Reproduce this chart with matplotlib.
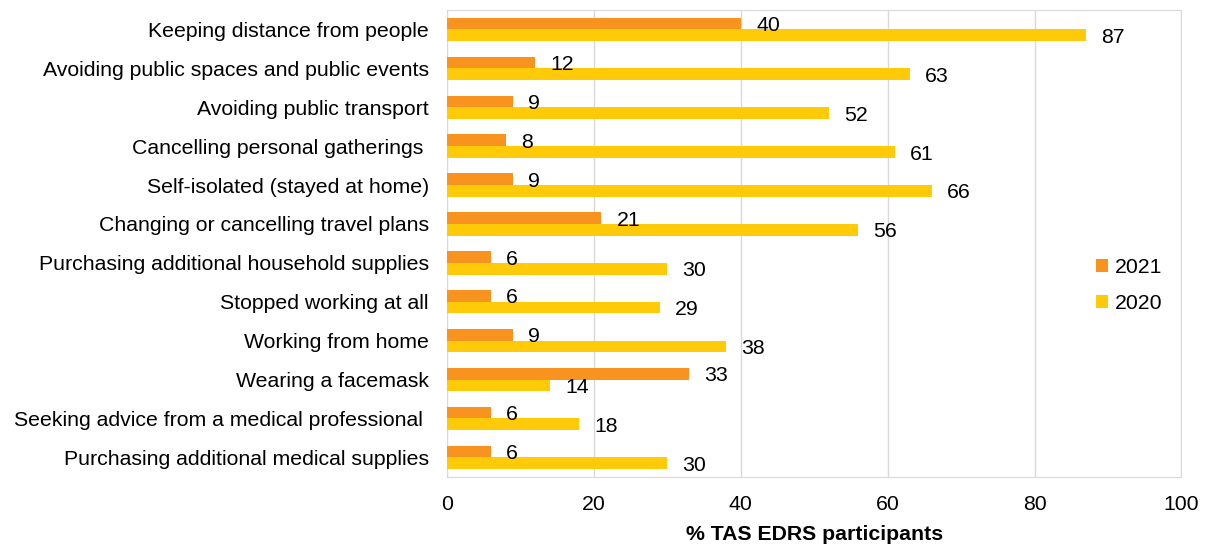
import numpy as np
import matplotlib.pyplot as plt

plt.rcParams['font.family'] = ['Liberation Sans', 'DejaVu Sans']

# Data
categories = [
    "Keeping distance from people",
    "Avoiding public spaces and public events",
    "Avoiding public transport",
    "Cancelling personal gatherings ",
    "Self-isolated (stayed at home)",
    "Changing or cancelling travel plans",
    "Purchasing additional household supplies",
    "Stopped working at all",
    "Working from home",
    "Wearing a facemask",
    "Seeking advice from a medical professional ",
    "Purchasing additional medical supplies",
]
vals_2021 = [40, 12, 9, 8, 9, 21, 6, 6, 9, 33, 6, 6]
vals_2020 = [87, 63, 52, 61, 66, 56, 30, 29, 38, 14, 18, 30]

c2021 = '#F7931E'
c2020 = '#FFCA08'
fs = 15.3

fig = plt.figure(figsize=(12.08, 5.5), dpi=100)
ax = fig.add_axes([0.370, 0.133, 0.608, 0.849])

y = np.arange(len(categories))
h = 0.3
b1 = ax.barh(y - h / 2, vals_2021, height=h, color=c2021, label='2021', zorder=3)
b2 = ax.barh(y + h / 2, vals_2020, height=h, color=c2020, label='2020', zorder=3)

# value labels just right of each bar
for bars in (b1, b2):
    for r in bars:
        ax.annotate(f"{int(r.get_width())}",
                    (r.get_width(), r.get_y() + r.get_height() / 2),
                    xytext=(11, -1.5), textcoords='offset points',
                    ha='left', va='center', fontsize=fs, color='black')

ax.set_xlim(0, 100)
ax.set_ylim(len(categories) - 0.5, -0.5)
ax.set_xticks(np.arange(0, 101, 20))
ax.set_yticks(y)
ax.set_yticklabels(categories)
ax.tick_params(axis='both', length=0, labelsize=fs)
ax.tick_params(axis='x', pad=13)
ax.tick_params(axis='y', pad=13)
ax.grid(axis='x', color='#D9D9D9', linewidth=1, zorder=0)
for s in ax.spines.values():
    s.set_color('#D9D9D9')
ax.set_xlabel('% TAS EDRS participants', fontsize=fs, fontweight='bold', labelpad=8)

ax.legend(loc='center right', bbox_to_anchor=(1.0, 0.41), frameon=False,
          fontsize=fs, handlelength=0.6, handleheight=0.6, handletextpad=0.3,
          labelspacing=0.8)

fig.savefig('out.png', dpi=100)
